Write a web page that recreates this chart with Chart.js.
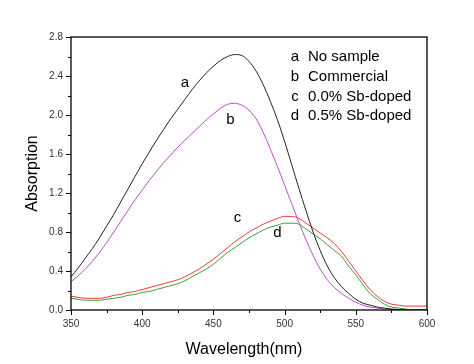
<!DOCTYPE html>
<html>
<head>
<meta charset="utf-8">
<script src="https://cdn.jsdelivr.net/npm/chart.js@4"></script>
<style>
  html, body { margin: 0; padding: 0; background: #fff; }
  #wrap { width: 474px; height: 364px; }
</style>
</head>
<body>
<div id="wrap"><canvas id="chart" width="474" height="364"></canvas></div>
<script>
// Wavelength grid (nm)
const wavelengths = [
    350, 355, 360, 365, 370, 375, 380, 385, 390, 395,
    400, 405, 410, 415, 420, 425, 430, 435, 440, 445,
    450, 455, 460, 465, 470, 475, 480, 485, 490, 495,
    500, 505, 510, 515, 520, 525, 530, 535, 540, 545,
    550, 555, 560, 565, 570, 575, 580, 585, 590, 595, 600
];

// a - No sample
const noSample = [
    0.34, 0.43, 0.53, 0.63, 0.74, 0.86, 0.98, 1.11, 1.24, 1.37,
    1.50, 1.62, 1.74, 1.85, 1.96, 2.06, 2.16, 2.26, 2.35, 2.43,
    2.50, 2.56, 2.60, 2.62, 2.61, 2.55, 2.45, 2.31, 2.14, 1.95,
    1.73, 1.49, 1.25, 1.02, 0.80, 0.61, 0.45, 0.33, 0.24, 0.17,
    0.11, 0.07, 0.05, 0.03, 0.02, 0.01, 0.005, 0.0, 0.0, 0.0, 0.0
];

// b - Commercial
const commercial = [
    0.29, 0.35, 0.42, 0.50, 0.59, 0.69, 0.80, 0.91, 1.02, 1.13,
    1.23, 1.33, 1.42, 1.51, 1.59, 1.67, 1.74, 1.81, 1.88, 1.95,
    2.01, 2.07, 2.11, 2.12, 2.10, 2.05, 1.96, 1.82, 1.65, 1.47,
    1.28, 1.09, 0.90, 0.72, 0.56, 0.42, 0.31, 0.23, 0.17, 0.12,
    0.08, 0.05, 0.03, 0.02, 0.01, 0.005, 0.0, 0.0, 0.0, 0.0, 0.0
];

// c - 0.0% Sb-doped
const sb00 = [
    0.14, 0.13, 0.12, 0.12, 0.12, 0.13, 0.15, 0.16, 0.18, 0.19,
    0.21, 0.23, 0.25, 0.27, 0.29, 0.31, 0.34, 0.38, 0.42, 0.47,
    0.52, 0.58, 0.64, 0.70, 0.75, 0.80, 0.84, 0.88, 0.91, 0.94,
    0.96, 0.96, 0.94, 0.89, 0.84, 0.79, 0.74, 0.68, 0.60, 0.50,
    0.40, 0.30, 0.21, 0.14, 0.09, 0.06, 0.05, 0.04, 0.04, 0.04, 0.04
];

// d - 0.5% Sb-doped
const sb05 = [
    0.12, 0.11, 0.10, 0.10, 0.10, 0.11, 0.12, 0.13, 0.15, 0.16,
    0.18, 0.19, 0.21, 0.23, 0.25, 0.27, 0.30, 0.34, 0.38, 0.42,
    0.47, 0.53, 0.59, 0.64, 0.69, 0.74, 0.78, 0.82, 0.85, 0.87,
    0.89, 0.89, 0.88, 0.83, 0.78, 0.73, 0.67, 0.61, 0.55, 0.45,
    0.36, 0.26, 0.17, 0.11, 0.06, 0.03, 0.02, 0.01, 0.0, 0.0, 0.0
];

// Legend entries and curve labels
const seriesLetters = ['a', 'b', 'c', 'd'];
const seriesNames = ['No sample', 'Commercial', '0.0% Sb-doped', '0.5% Sb-doped'];
const seriesColors = ['#222222', '#b84fc8', '#f03a3a', '#3a9e3a'];
// where the letter sits next to each curve (wavelength, absorption)
const letterX = [430, 462, 467, 495];
const letterY = [2.33, 1.95, 0.94, 0.79];

const FONT = "'Liberation Sans', Arial, sans-serif";

function toPoints(values) {
    return wavelengths.map((w, i) => ({ x: w, y: values[i] }));
}

// Draws frame, major/minor ticks, axis titles, letters and legend
const overlay = {
    id: 'overlay',
    afterDraw(chart) {
        const { ctx, chartArea: ca, scales } = chart;
        const x = scales.x, y = scales.y;
        ctx.save();

        // frame
        ctx.strokeStyle = '#000';
        ctx.lineWidth = 1.3;
        ctx.strokeRect(ca.left, ca.top, ca.right - ca.left, ca.bottom - ca.top);

        // ticks, pointing outward
        ctx.lineWidth = 1;
        ctx.beginPath();
        x.ticks.forEach(t => {
            const px = Math.round(x.getPixelForValue(t.value)) + 0.5;
            const len = t.value % 50 === 0 ? 5 : 3;
            ctx.moveTo(px, ca.bottom);
            ctx.lineTo(px, ca.bottom + len);
        });
        y.ticks.forEach(t => {
            const py = Math.round(y.getPixelForValue(t.value)) + 0.5;
            const len = Math.round(t.value * 10) % 4 === 0 ? 5 : 3;
            ctx.moveTo(ca.left, py);
            ctx.lineTo(ca.left - len, py);
        });
        ctx.stroke();

        // axis titles
        ctx.fillStyle = '#000';
        ctx.font = '16px ' + FONT;
        ctx.textAlign = 'center';
        ctx.textBaseline = 'middle';
        ctx.fillText('Wavelength(nm)', (ca.left + ca.right) / 2 - 5, 350);
        ctx.save();
        ctx.translate(33, (ca.top + ca.bottom) / 2);
        ctx.rotate(-Math.PI / 2);
        ctx.fillText('Absorption', 0, 0);
        ctx.restore();

        // curve letters
        ctx.font = '15px ' + FONT;
        seriesLetters.forEach((s, i) => {
            ctx.fillText(s, x.getPixelForValue(letterX[i]), y.getPixelForValue(letterY[i]));
        });

        // legend text
        ctx.font = '15px ' + FONT;
        seriesLetters.forEach((s, i) => {
            const ly = ca.top + 20 + i * 19.7;
            ctx.textAlign = 'center';
            ctx.fillText(s, ca.left + 224, ly);
            ctx.textAlign = 'left';
            ctx.fillText(seriesNames[i], ca.left + 237, ly);
        });

        ctx.restore();
    }
};

const datasets = [noSample, commercial, sb00, sb05].map((vals, i) => ({
    label: seriesNames[i],
    data: toPoints(vals),
    borderColor: seriesColors[i],
    borderWidth: 1,
    pointRadius: 0,
    fill: false,
    cubicInterpolationMode: 'monotone'
}));

new Chart(document.getElementById('chart'), {
    type: 'line',
    data: { datasets },
    options: {
        responsive: false,
        animation: false,
        devicePixelRatio: 1,
        layout: { padding: { left: 0, top: 37, right: 47, bottom: 0 } },
        plugins: {
            legend: { display: false },
            tooltip: { enabled: false }
        },
        scales: {
            x: {
                type: 'linear',
                min: 350,
                max: 600,
                afterFit: s => { s.height = 54; },
                grid: { display: false, drawTicks: false },
                border: { display: false },
                ticks: {
                    stepSize: 25,
                    padding: 8,
                    autoSkip: false,
                    maxRotation: 0,
                    color: '#333',
                    font: { family: FONT, size: 10 },
                    callback: v => (v % 50 === 0 ? v : '')
                }
            },
            y: {
                min: 0,
                max: 2.8,
                afterFit: s => { s.width = 71; },
                grid: { display: false, drawTicks: false },
                border: { display: false },
                ticks: {
                    stepSize: 0.2,
                    padding: 8,
                    autoSkip: false,
                    color: '#333',
                    font: { family: FONT, size: 10 },
                    callback: v => (Math.round(v * 10) % 4 === 0 ? v.toFixed(1) : '')
                }
            }
        }
    },
    plugins: [overlay]
});
</script>
</body>
</html>
